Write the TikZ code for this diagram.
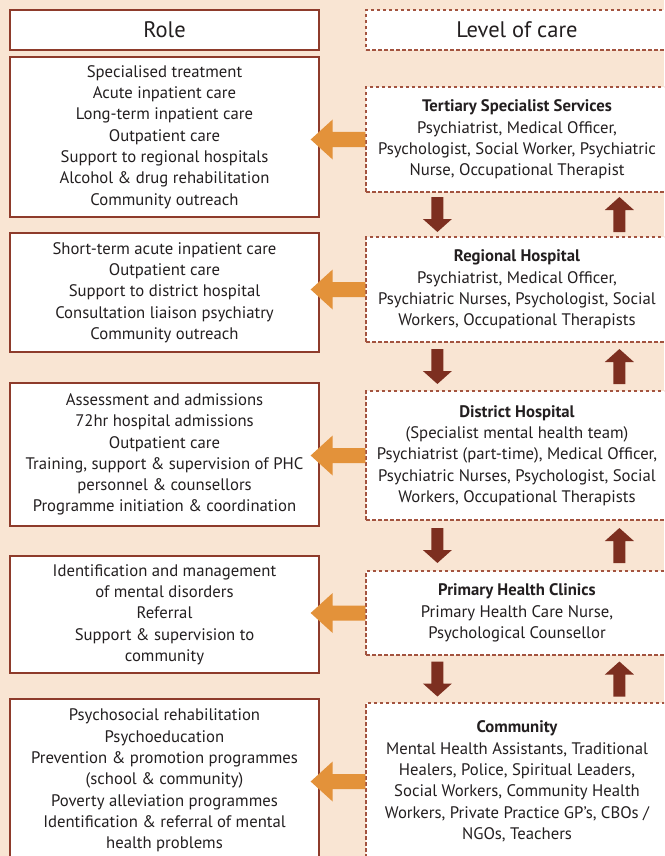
\documentclass[tikz,border=0pt]{standalone}
\usepackage{fontspec}
\setmainfont{PT Sans}
\usetikzlibrary{calc}

\definecolor{peach}{HTML}{F9E5D3}
\definecolor{boxred}{HTML}{8E3B2B}
\definecolor{dashred}{HTML}{A3533F}
\definecolor{roleorange}{HTML}{E3923A}
\definecolor{stepbrown}{HTML}{7D2F20}
\definecolor{inktext}{HTML}{231F20}

\begin{document}
\begin{tikzpicture}[x=1pt, y=-1pt,
    every node/.style={text=inktext, font=\fontsize{16.7}{21.3}\selectfont},
    rolebox/.style={draw=boxred, line width=1.3pt, fill=white,
                    minimum width=309pt, inner sep=0pt, align=center},
    carebox/.style={draw=dashred, line width=1.2pt, dash pattern=on 3.5pt off 2.5pt,
                    fill=white, minimum width=302pt, inner sep=0pt, align=center},
    headtext/.style={font=\fontsize{22.5}{25}\selectfont}]

  % background and page frame
  \fill[peach] (0,0) rectangle (664,856);
  \clip (0,0) rectangle (664,856);

  % === Column heads ===
  \node[rolebox, minimum height=40pt, headtext] (role) at (164.5,30) {Role};
  \node[carebox, minimum height=40pt, headtext] (level) at (517,30) {Level of care};

  % === Roles (left) ===
  \node[rolebox, minimum height=160pt] (r1) at (164.5,137) {Specialised treatment\\
    Acute inpatient care\\ Long-term inpatient care\\ Outpatient care\\
    Support to regional hospitals\\ Alcohol \& drug rehabilitation\\ Community outreach};
  \node[rolebox, minimum height=119pt] (r2) at (164.5,292.5) {Short-term acute inpatient care\\
    Outpatient care\\ Support to district hospital\\ Consultation liaison psychiatry\\
    Community outreach};
  \node[rolebox, minimum height=143pt] (r3) at (164.5,454.5) {Assessment and admissions\\
    72hr hospital admissions\\ Outpatient care\\ Training, support \& supervision of PHC\\
    personnel \& counsellors\\ Programme initiation \& coordination};
  \node[rolebox, minimum height=117pt] (r4) at (164.5,614.5) {Identification and management\\
    of mental disorders\\ Referral\\ Support \& supervision to\\ community};
  \node[rolebox, minimum height=163pt] (r5) at (164.5,780.5) {Psychosocial rehabilitation\\
    Psychoeducation\\ Prevention \& promotion programmes\\ (school \& community)\\
    Poverty alleviation programmes\\ Identification \& referral of mental\\ health problems};

  % === Levels of care (right) ===
  \node[carebox, minimum height=105pt] (tert) at (517,139.5) {\textbf{Tertiary Specialist Services}\\
    Psychiatrist, Medical Officer,\\ Psychologist, Social Worker, Psychiatric\\
    Nurse, Occupational Therapist};
  \node[carebox, minimum height=105pt] (reg) at (517,289.5) {\textbf{Regional Hospital}\\
    Psychiatrist, Medical Officer,\\ Psychiatric Nurses, Psychologist, Social\\
    Workers, Occupational Therapists};
  \node[carebox, minimum height=129pt] (dist) at (517,455.5) {\textbf{District Hospital}\\
    (Specialist mental health team)\\ Psychiatrist (part-time), Medical Officer,\\
    Psychiatric Nurses, Psychologist, Social\\ Workers, Occupational Therapists};
  \node[carebox, minimum height=84pt] (phc) at (517,613) {\textbf{Primary Health Clinics}\\
    Primary Health Care Nurse,\\ Psychological Counsellor};
  \node[carebox, minimum height=157pt] (comm) at (517,781.5) {\textbf{Community}\\
    Mental Health Assistants, Traditional\\ Healers, Police, Spiritual Leaders,\\
    Social Workers, Community Health\\ Workers, Private Practice GP’s, CBOs /\\
    NGOs, Teachers};

  % level -> role block arrows
  \foreach \c/\r in {tert/r1, reg/r2, dist/r3, phc/r4, comm/r5} {
    \path (\c.west) coordinate (s) (\r.east |- \c.west) coordinate (t);
    \fill[roleorange] ($(s)+(0,-7.5)$) -- ($(t)+(13,-7.5)$) -- ($(t)+(13,-20)$)
      -- ($(t)+(-9,0)$) -- ($(t)+(13,20)$) -- ($(t)+(13,7.5)$) -- ($(s)+(0,7.5)$) -- cycle;
  }

  % referral arrows down and up between levels
  \foreach \a/\b in {tert/reg, reg/dist, dist/phc, phc/comm} {
    \coordinate (m) at ($(\a.south west)!0.5!(\b.north west)$);
    \fill[stepbrown, shift={($(m)+(72,0)$)}] (-6,-17.5) -- (6,-17.5) -- (6,4.5) -- (14.5,4.5)
      -- (0,17.5) -- (-14.5,4.5) -- (-6,4.5) -- cycle;
    \fill[stepbrown, shift={($(m)+(254,0)$)}] (-6,17.5) -- (6,17.5) -- (6,-4.5) -- (14.5,-4.5)
      -- (0,-17.5) -- (-14.5,-4.5) -- (-6,-4.5) -- cycle;
  }

\end{tikzpicture}
\end{document}
